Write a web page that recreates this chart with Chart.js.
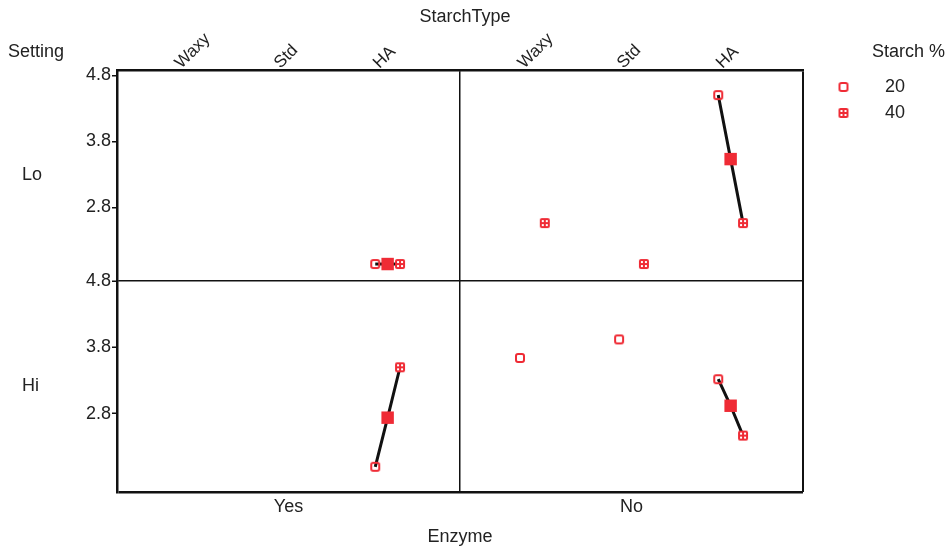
<!DOCTYPE html>
<html><head><meta charset="utf-8">
<script src="https://cdn.jsdelivr.net/npm/chart.js@4/dist/chart.umd.min.js"></script>
<style>html,body{margin:0;padding:0;background:#fff;}canvas{display:block;}</style>
</head><body>
<canvas id="c" width="951" height="549"></canvas>
<script>
// ---- data ----
const starchTypes = ['Waxy', 'Std', 'HA'];
const settings = ['Lo', 'Hi'];
const enzymes = ['Yes', 'No'];
const starchLevels = ['20', '40'];
const yTickValues = [2.8, 3.8, 4.8];

// values per StarchType (Waxy, Std, HA); null = no observation
const loYes20 = [null, null, 1.94];
const loYes40 = [null, null, 1.94];
const loYesMean = [null, null, 1.94];
const loNo20 = [null, null, 4.50];
const loNo40 = [2.56, 1.94, 2.56];
const loNoMean = [null, null, 3.53];
const hiYes20 = [null, null, 2.00];
const hiYes40 = [null, null, 3.50];
const hiYesMean = [null, null, 2.74];
const hiNo20 = [3.64, 3.92, 3.32];
const hiNo40 = [null, null, 2.47];
const hiNoMean = [null, null, 2.92];

const titleTop = 'StarchType';
const titleRows = 'Setting';
const titleBottom = 'Enzyme';
const titleLegend = 'Starch %';

// ---- style ----
const FONT = "'Liberation Sans', Arial, Helvetica, sans-serif";
const RED = '#ef2b35';
const INK = '#222';
const LINE = '#111';
const DODGE = 0.125;

Chart.defaults.font.family = FONT;
Chart.defaults.font.size = 18;
Chart.defaults.color = INK;

function rr(g, x, y, w, h, r) {
  g.beginPath();
  g.moveTo(x + r, y); g.lineTo(x + w - r, y); g.quadraticCurveTo(x + w, y, x + w, y + r);
  g.lineTo(x + w, y + h - r); g.quadraticCurveTo(x + w, y + h, x + w - r, y + h);
  g.lineTo(x + r, y + h); g.quadraticCurveTo(x, y + h, x, y + h - r);
  g.lineTo(x, y + r); g.quadraticCurveTo(x, y, x + r, y); g.closePath();
}
function openSquare() {
  const c = document.createElement('canvas'); c.width = 12; c.height = 12;
  const g = c.getContext('2d');
  g.strokeStyle = RED; g.lineWidth = 2;
  rr(g, 2, 2, 8, 8, 2); g.stroke();
  return c;
}
function crossSquare() {
  const c = document.createElement('canvas'); c.width = 12; c.height = 12;
  const g = c.getContext('2d');
  g.fillStyle = RED; rr(g, 1, 1, 10, 10, 2); g.fill();
  g.fillStyle = '#fff';
  g.fillRect(3, 3, 2, 2); g.fillRect(7, 3, 2, 2); g.fillRect(3, 7, 2, 2); g.fillRect(7, 7, 2, 2);
  return c;
}
const img20 = openSquare();
const img40 = crossSquare();

const panels = [
  {setting: 'Lo', enzyme: 'Yes', v20: loYes20, v40: loYes40, mean: loYesMean},
  {setting: 'Lo', enzyme: 'No', v20: loNo20, v40: loNo40, mean: loNoMean},
  {setting: 'Hi', enzyme: 'Yes', v20: hiYes20, v40: hiYes40, mean: hiYesMean},
  {setting: 'Hi', enzyme: 'No', v20: hiNo20, v40: hiNo40, mean: hiNoMean},
];

const datasets = [];
panels.forEach(p => {
  const xa = 'x' + p.enzyme, ya = 'y' + p.setting;
  const p20 = [], p40 = [], pm = [], seg = [];
  starchTypes.forEach((t, i) => {
    const a = p.v20[i], b = p.v40[i], m = p.mean[i];
    if (a != null) p20.push({x: i - DODGE, y: a});
    if (b != null) p40.push({x: i + DODGE, y: b});
    if (m != null) pm.push({x: i, y: m});
    if (a != null && b != null) {
      if (seg.length) seg.push({x: i, y: null});
      seg.push({x: i - DODGE, y: a}, {x: i, y: m}, {x: i + DODGE, y: b});
    }
  });
  const common = {xAxisID: xa, yAxisID: ya, showLine: false};
  datasets.push({...common, label: 'mean', data: pm, pointStyle: 'rect', pointRadius: 8.8,
    backgroundColor: RED, borderWidth: 0, order: 0});
  datasets.push({...common, label: '20', data: p20, pointStyle: img20, pointRadius: 5, order: 1});
  datasets.push({...common, label: '40', data: p40, pointStyle: img40, pointRadius: 5, order: 1});
  datasets.push({...common, label: 'line', data: seg, showLine: true, spanGaps: false,
    borderColor: LINE, borderWidth: 3, pointRadius: 0, order: 5});
});

const TRANSP = 'rgba(0,0,0,0)';
const scales = {};
enzymes.forEach((e, i) => {
  const last = i === enzymes.length - 1;
  scales['x' + e] = {
    type: 'linear', position: 'top', stack: 'cols', stackWeight: 1, weight: enzymes.length - i,
    min: -0.73, max: 2.73,
    afterBuildTicks: s => { s.ticks = starchTypes.map((_, k) => ({value: k})).concat([{value: s.max}]); },
    afterFit: s => { s.height = 70; },
    ticks: {autoSkip: false, minRotation: 45, maxRotation: 45, padding: -3, labelOffset: 3,
      color: INK, font: {size: 17},
      callback: v => (starchTypes[v] !== undefined ? starchTypes[v] : '')},
    grid: {display: true, drawOnChartArea: true, drawTicks: false,
      color: c => (c.tick && c.tick.value === c.scale.max) ? LINE : TRANSP,
      lineWidth: last ? 2 : 1.5},
    border: {display: true, color: LINE, width: 2.5}
  };
  scales['b' + e] = {
    type: 'category', labels: [e], position: 'bottom', stack: 'colsB', stackWeight: 1, weight: i + 1,
    offset: true,
    afterFit: s => { s.height = 57; },
    ticks: {padding: 4, color: INK},
    grid: {display: false, drawTicks: false}, border: {display: false}
  };
});
const yRanges = {Lo: [1.683, 4.88], Hi: [1.62, 4.8]};
settings.forEach((st, i) => {
  const last = i === settings.length - 1;
  scales['y' + st] = {
    type: 'linear', position: 'left', stack: 'rows', stackWeight: 1, weight: settings.length - i,
    min: yRanges[st][0], max: yRanges[st][1],
    afterBuildTicks: s => { s.ticks = [{value: s.min}].concat(yTickValues.map(v => ({value: v}))); },
    afterFit: s => { s.width = 55; },
    ticks: {autoSkip: false, padding: 1, color: INK,
      callback: v => (yTickValues.includes(v) ? v.toFixed(1) : '')},
    grid: {display: true, drawOnChartArea: true, drawTicks: true, tickLength: 5, tickWidth: 1.5,
      tickColor: c => (c.tick && c.tick.value === c.scale.min) ? TRANSP : LINE,
      color: c => (c.tick && c.tick.value === c.scale.min) ? LINE : TRANSP,
      lineWidth: last ? 2.5 : 1.5},
    border: {display: true, color: LINE, width: 2.5}
  };
  scales['l' + st] = {
    type: 'category', labels: [st], position: 'left', stack: 'rowsL', stackWeight: 1, weight: 20 - i,
    offset: true,
    afterFit: s => { s.width = 40; },
    ticks: {crossAlign: 'far', padding: 0, color: INK},
    grid: {display: false, drawTicks: false}, border: {display: false}
  };
});

const titlesPlugin = {
  id: 'facetTitles',
  afterDraw(chart) {
    const g = chart.ctx, a = chart.chartArea;
    g.save();
    g.fillStyle = INK; g.font = '18px ' + FONT; g.textBaseline = 'middle';
    g.textAlign = 'center';
    g.fillText(titleTop, (a.left + a.right) / 2 + 5, 17);
    g.fillText(titleBottom, (a.left + a.right) / 2, 537);
    g.textAlign = 'left';
    g.fillText(titleRows, 8, 52);
    g.fillText(titleLegend, 872, 52);
    g.restore();
  }
};

new Chart(document.getElementById('c'), {
  type: 'scatter',
  data: {datasets},
  options: {
    responsive: false, animation: false, devicePixelRatio: 1, events: [],
    layout: {padding: {left: 22, top: 0, right: 38, bottom: 0}},
    scales,
    plugins: {
      tooltip: {enabled: false},
      legend: {
        position: 'right', align: 'start', fullSize: false, maxWidth: 110,
        labels: {
          usePointStyle: true, pointStyleWidth: 65, padding: 8, color: INK, font: {size: 18},
          generateLabels: () => starchLevels.map((lv, k) => ({
            text: lv, pointStyle: k ? img40 : img20, fillStyle: RED, strokeStyle: RED,
            lineWidth: 0, hidden: false, fontColor: INK
          }))
        }
      }
    }
  },
  plugins: [titlesPlugin]
});
</script>
</body></html>
